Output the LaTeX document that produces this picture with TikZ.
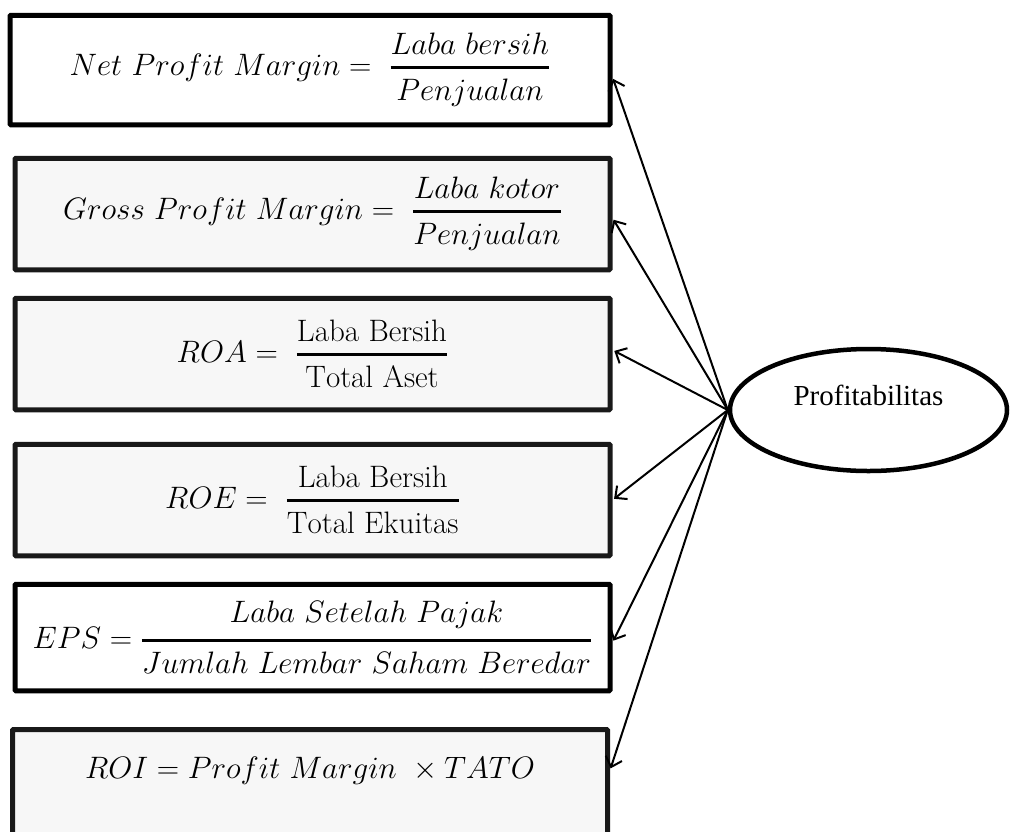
\RequirePackage{fix-cm}
\documentclass[tikz,border=0pt]{standalone}
\usepackage{amsmath}
\usepackage{fontspec}
\newfontfamily\timesfont{Liberation Serif}
\usetikzlibrary{shapes.geometric, arrows.meta}
\definecolor{boxgray}{RGB}{247,247,247}
\newcommand{\ratio}[2]{\genfrac{}{}{3.3pt}{0}{#1}{#2}}

\begin{document}
\begin{tikzpicture}[x=1pt, y=-1pt,
    formbox/.style={draw=black!90, line width=5pt, rounded corners=1pt, fill=boxgray,
      inner sep=0pt, minimum width=595pt, minimum height=111.5pt,
      font=\fontsize{31}{36}\selectfont},
    link/.style={line width=2pt, shorten >=2pt,
      -{Straight Barb[length=9pt, width=17pt, line width=2pt]}}]
    \useasboundingbox (0,0) rectangle (1010,831);

    % Ratio boxes
    \node[formbox, draw=black, fill=white, minimum width=600pt, minimum height=109.5pt] (npm) at (310,70)
        {$Net\ Profit\ Margin =\ \ratio{Laba\ bersih}{Penjualan}$};
    \node[formbox] (gpm) at (312.5,214)
        {$Gross\ Profit\ Margin =\ \ratio{Laba\ kotor}{Penjualan}$};
    \node[formbox] (roa) at (312.5,354)
        {$ROA =\ \ratio{\mathrm{Laba\ Bersih}}{\mathrm{Total\ Aset}}$};
    \node[formbox] (roe) at (312.5,500)
        {$ROE =\ \ratio{\mathrm{Laba\ Bersih}}{\mathrm{Total\ Ekuitas}}$};
    \node[formbox, draw=black, fill=white, minimum height=106.5pt] (eps) at (312.5,637.5)
        {$EPS = \ratio{Laba\ Setelah\ Pajak}{Jumlah\ Lembar\ Saham\ Beredar}$};
    % last box runs past the bottom edge
    \node[formbox, anchor=north, text height=48pt, text depth=62pt] (roi) at (310,727)
        {$ROI = Profit\ Margin\ \times TATO$};

    % Construct
    \node[ellipse, draw, line width=4.5pt, minimum width=277pt, minimum height=122pt,
        text height=20pt, text depth=30pt, font=\timesfont\fontsize{29}{34}\selectfont] (prof) at (868.5,410)
        {Profitabilitas};

    % Indicator arrows
    \draw[link] (prof.west) -- ([yshift=-7pt]npm.east);
    \draw[link] (prof.west) -- ([yshift=-4pt]gpm.east);
    \draw[link] (prof.west) -- ([yshift=4pt]roa.east);
    \draw[link] (prof.west) -- (roe.east);
    \draw[link] (prof.west) -- ([yshift=-5pt]eps.east);
    \draw[link] (prof.west) -- ([yshift=8pt]roi.base east);
\end{tikzpicture}
\end{document}
